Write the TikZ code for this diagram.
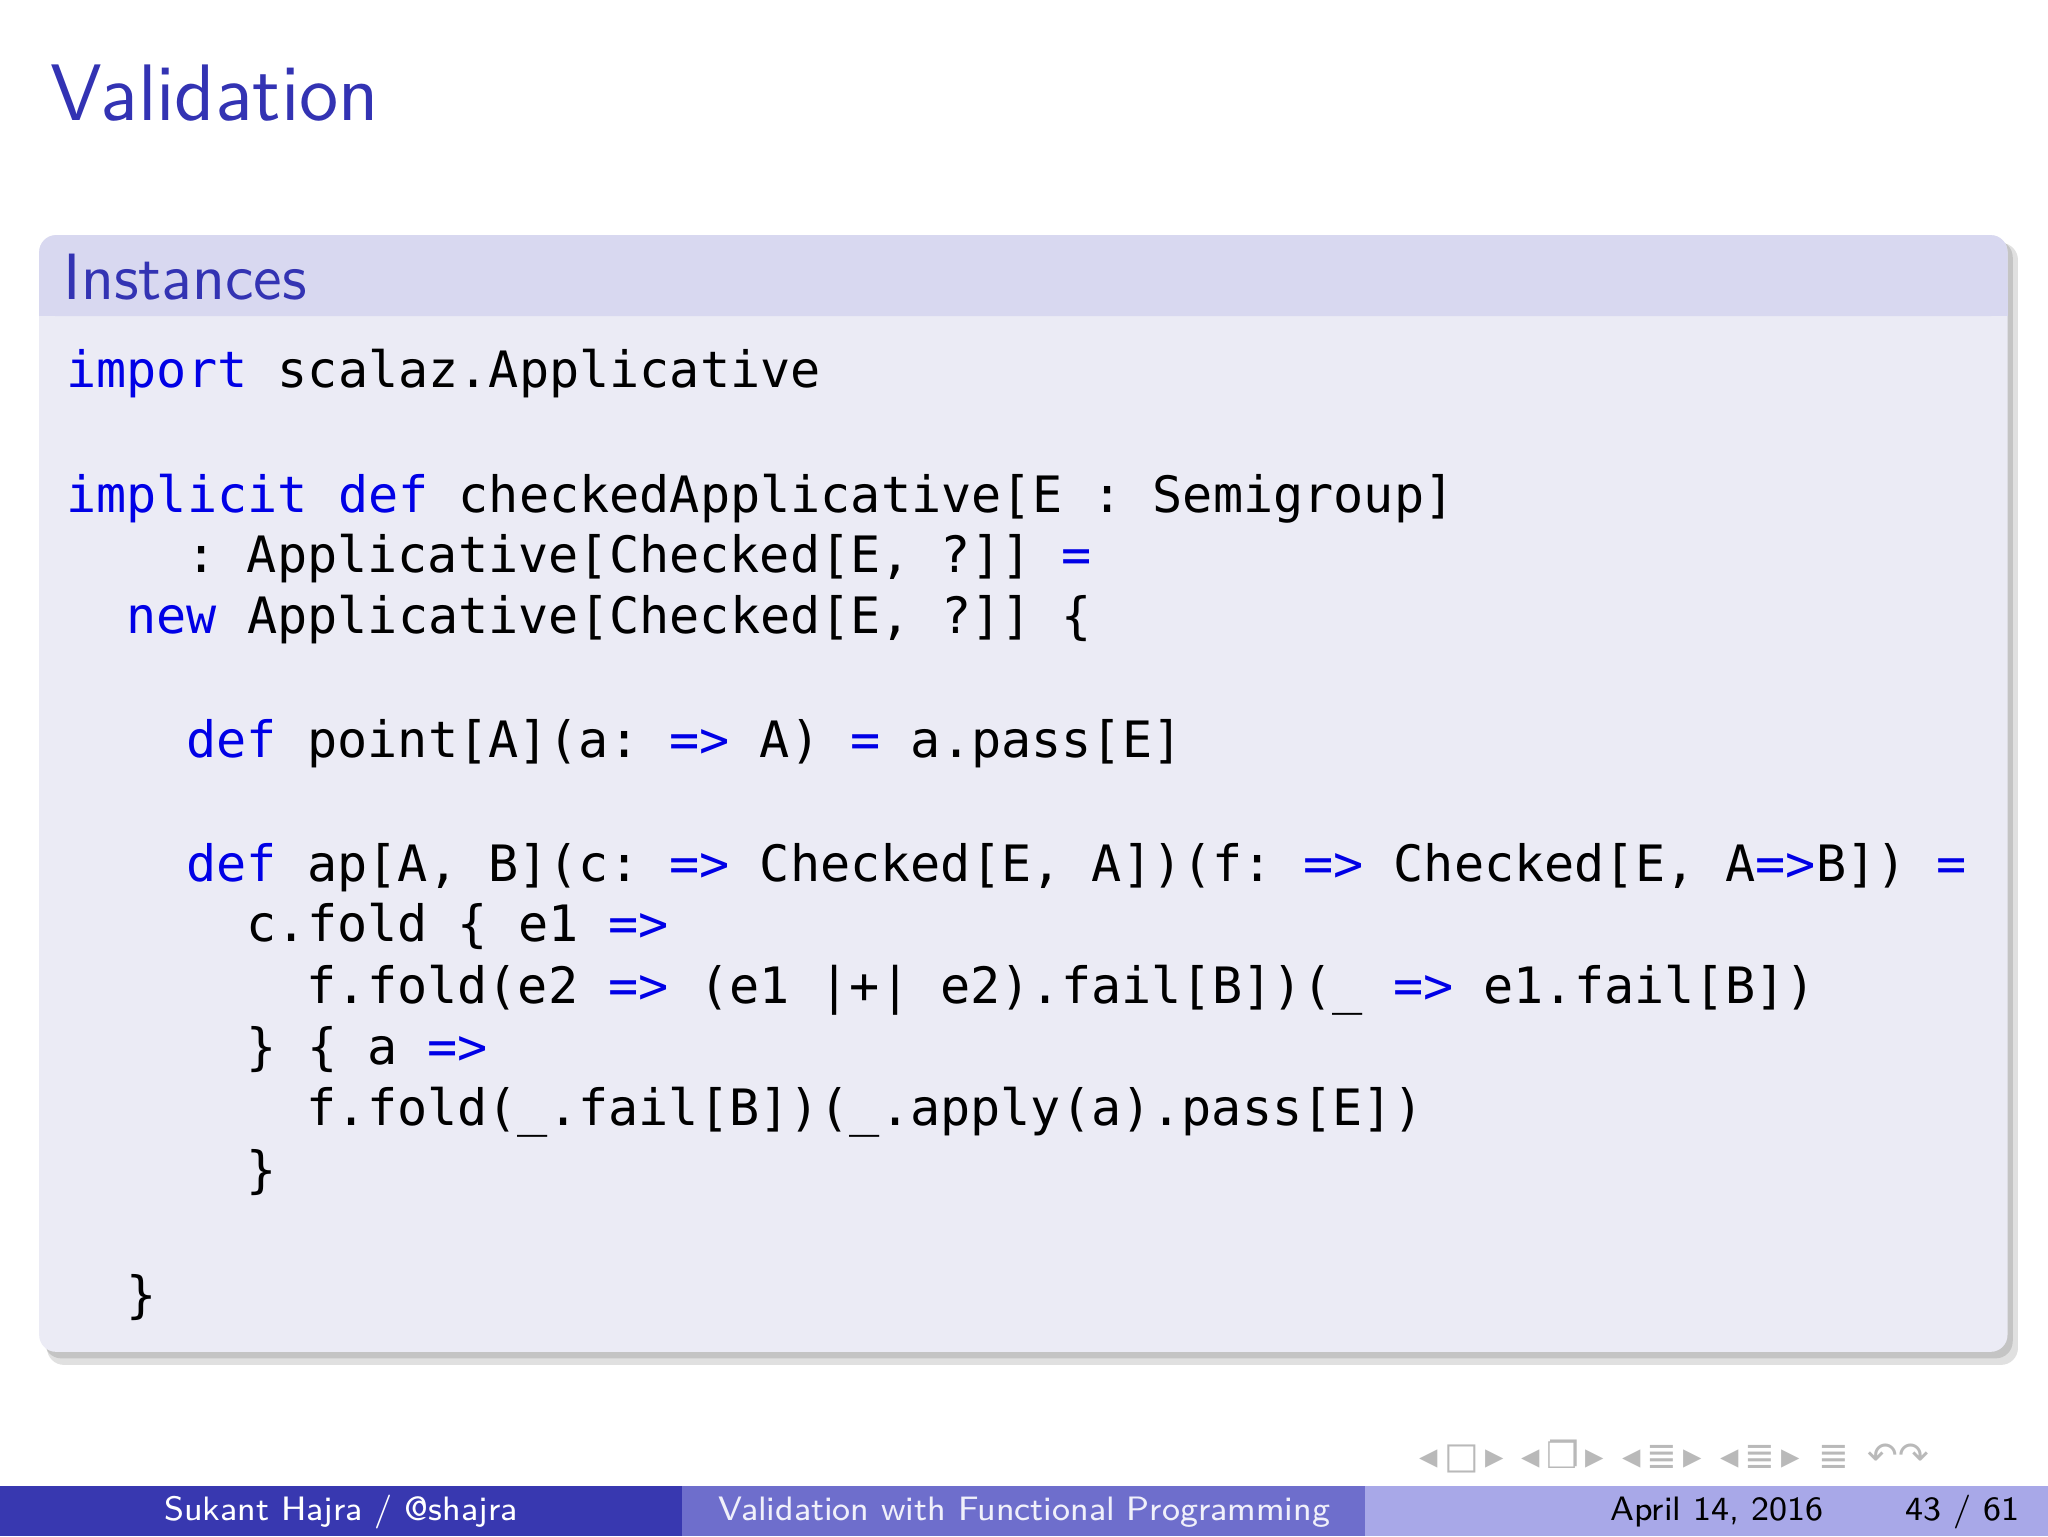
\documentclass[tikz,border=0pt]{standalone}
\usepackage{fontspec}
\setmonofont{DejaVu Sans Mono}
\newfontfamily\symf{DejaVu Sans}
\definecolor{titleblue}{RGB}{51,51,179}
\definecolor{kw}{RGB}{0,0,230}
\definecolor{hdr}{RGB}{216,216,240}
\definecolor{bdy}{RGB}{235,235,245}
\definecolor{fa}{RGB}{56,56,176}
\definecolor{fb}{RGB}{110,110,204}
\definecolor{fc}{RGB}{168,168,232}
\newcommand{\K}[1]{\textcolor{kw}{#1}}
\tikzset{code/.style={anchor=base west,inner sep=0pt,font=\fontsize{8.88pt}{10pt}\ttfamily},
 foot/.style={inner sep=0pt,anchor=base,font=\fontsize{6pt}{7pt}\sffamily}}
\begin{document}
\begin{tikzpicture}[x=0.2314pt,y=-0.2314pt]
\useasboundingbox (0,0) rectangle (1568,1176);
\fill[white] (0,0) rectangle (1568,1176);
\node[anchor=base west,inner sep=0pt,text=titleblue,font=\fontsize{14.2pt}{16pt}\sffamily] (title) at (38,92) {Validation};
% block
\fill[black,opacity=0.12,rounded corners=3pt] (36,186) rectangle (1545,1045);
\fill[black,opacity=0.12,rounded corners=3pt] (34,184) rectangle (1541,1040);
\fill[bdy,rounded corners=3pt] (30,180) rectangle (1537,1035);
\fill[hdr,rounded corners=3pt] (30,180) rectangle (1537,242);
\fill[hdr] (30,220) rectangle (1537,242);
\node[anchor=base west,inner sep=0pt,text=titleblue,font=\fontsize{11.6pt}{13pt}\sffamily] (hd) at (48,229) {Instances};
\node[code] (l1) at (50,297) {\K{import} scalaz.Applicative};
\node[code] (l2) at (50,392) {\K{implicit} \K{def} checkedApplicative[E : Semigroup]};
\node[code] (l3) at (142,438) {: Applicative[Checked[E, ?]] \K{=}};
\node[code] (l4) at (96,485) {\K{new} Applicative[Checked[E, ?]] \{};
\node[code] (l5) at (142,580) {\K{def} point[A](a: \K{=>} A) \K{=} a.pass[E]};
\node[code] (l6) at (142,675) {\K{def} ap[A, B](c: \K{=>} Checked[E, A])(f: \K{=>} Checked[E, A\K{=>}B]) \K{=}};
\node[code] (l7) at (188,721) {c.fold \{ e1 \K{=>}};
\node[code] (l8) at (234,768) {f.fold(e2 \K{=>} (e1 |+| e2).fail[B])(\_ \K{=>} e1.fail[B])};
\node[code] (l9) at (188,815) {\} \{ a \K{=>}};
\node[code] (l10) at (234,862) {f.fold(\_.fail[B])(\_.apply(a).pass[E])};
\node[code] (l11) at (188,909) {\}};
\node[code] (l12) at (96,1005) {\}};
% nav symbols
\node[inner sep=0pt,text=gray!55,font=\fontsize{6.5pt}{7pt}\symf] (nav) at (1282,1115) {◂\,□\,▸\enspace ◂\,❐\,▸\enspace ◂\,≣\,▸\enspace ◂\,≣\,▸\enspace ≣\enspace ↶↷};
% footer
\fill[fa] (0,1138) rectangle (522,1176);
\fill[fb] (522,1138) rectangle (1045,1176);
\fill[fc] (1045,1138) rectangle (1568,1176);
\node[foot,text=white] (f1) at (261,1164) {Sukant Hajra / @shajra};
\node[foot,text=white!90!fb] (f2) at (784,1164) {Validation with Functional Programming};
\node[foot,anchor=base west,text=black] (f3) at (1232,1164) {April 14, 2016};
\node[foot,anchor=base west,text=black] (f4) at (1458,1164) {43 / 61};
\end{tikzpicture}
\end{document}
